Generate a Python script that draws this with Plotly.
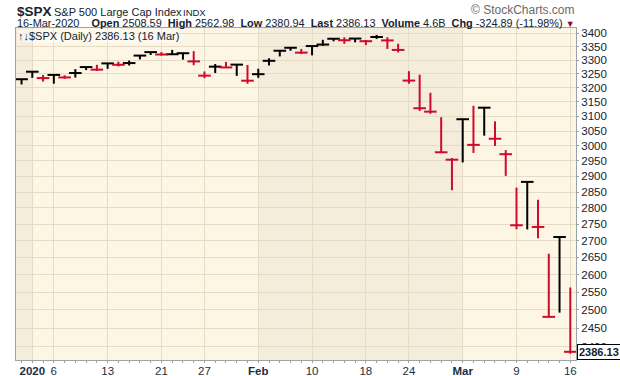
import math
import plotly.graph_objects as go

# ---------------- data ----------------
dates = ["2019-12-31",
         "2020-01-02", "2020-01-03", "2020-01-06", "2020-01-07", "2020-01-08", "2020-01-09", "2020-01-10",
         "2020-01-13", "2020-01-14", "2020-01-15", "2020-01-16", "2020-01-17", "2020-01-21", "2020-01-22",
         "2020-01-23", "2020-01-24", "2020-01-27", "2020-01-28", "2020-01-29", "2020-01-30", "2020-01-31",
         "2020-02-03", "2020-02-04", "2020-02-05", "2020-02-06", "2020-02-07", "2020-02-10", "2020-02-11",
         "2020-02-12", "2020-02-13", "2020-02-14", "2020-02-18", "2020-02-19", "2020-02-20", "2020-02-21",
         "2020-02-24", "2020-02-25", "2020-02-26", "2020-02-27", "2020-02-28",
         "2020-03-02", "2020-03-03", "2020-03-04", "2020-03-05", "2020-03-06", "2020-03-09", "2020-03-10",
         "2020-03-11", "2020-03-12", "2020-03-13", "2020-03-16"]
highs = [3231.72,
         3258.14, 3246.15, 3246.84, 3244.91, 3267.07, 3275.58, 3282.99,
         3288.13, 3294.25, 3298.66, 3317.11, 3329.88, 3329.79, 3337.77,
         3326.88, 3333.18, 3258.85, 3285.78, 3293.47, 3285.91, 3282.33,
         3268.44, 3306.92, 3337.58, 3347.96, 3341.42, 3352.26, 3375.63,
         3381.47, 3385.09, 3380.69, 3375.01, 3393.52, 3385.09, 3360.76,
         3259.81, 3246.99, 3182.51, 3097.07, 2959.72,
         3090.96, 3136.72, 3130.97, 3083.04, 2985.93, 2863.89, 2882.59,
         2825.60, 2660.95, 2711.33, 2562.98]
lows = [3212.03,
        3235.53, 3222.34, 3214.64, 3232.43, 3236.67, 3263.67, 3260.86,
        3268.43, 3277.19, 3280.69, 3302.82, 3318.86, 3316.61, 3320.04,
        3301.87, 3281.53, 3234.50, 3253.22, 3271.89, 3242.80, 3214.68,
        3235.66, 3280.61, 3313.75, 3334.39, 3322.12, 3317.77, 3352.72,
        3369.72, 3360.52, 3366.15, 3355.61, 3378.83, 3341.48, 3328.45,
        3214.65, 3118.77, 3108.99, 2977.39, 2855.84,
        2945.19, 2976.63, 3034.38, 2999.83, 2901.54, 2734.43, 2734.00,
        2707.22, 2478.86, 2492.37, 2380.94]
closes = [3230.78,
          3257.85, 3234.85, 3246.28, 3237.18, 3253.05, 3274.70, 3265.35,
          3288.13, 3283.15, 3289.29, 3316.81, 3329.62, 3320.79, 3321.75,
          3325.54, 3295.47, 3243.63, 3276.24, 3273.40, 3283.66, 3225.52,
          3248.92, 3297.59, 3334.69, 3345.78, 3327.71, 3352.09, 3357.75,
          3379.45, 3373.94, 3380.16, 3370.29, 3386.15, 3373.23, 3337.75,
          3225.89, 3128.21, 3116.39, 2978.76, 2954.22,
          3090.23, 3003.37, 3130.12, 3023.94, 2972.37, 2746.56, 2882.23,
          2741.38, 2480.64, 2711.02, 2386.13]
prev_close_first = 3221.29  # 2019-12-30 close

tick_dates = ["2020-01-02", "2020-01-06", "2020-01-13", "2020-01-21", "2020-01-27", "2020-02-03",
              "2020-02-10", "2020-02-18", "2020-02-24", "2020-03-02", "2020-03-09", "2020-03-16"]
tick_labels = ["<b>2020</b>", "6", "13", "21", "27", "<b>Feb</b>", "10", "18", "24", "<b>Mar</b>", "9", "16"]
y_ticks = list(range(2400, 3401, 50))

# ---------------- styling ----------------
RED = "#CF0A2C"
BLACK = "#000000"
BG_LIGHT = "#FDF6E4"
BG_DARK = "#F4EDDC"
GRID = "#E6DCC6"
TXT = "#13222E"
AX = "#9AA3A8"
FONT = "Liberation Sans, Arial, sans-serif"

W, H = 620, 376
ML, MR, MT, MB = 16, 44, 28, 16
X_LO, X_HI = -0.515, 51.53

def px_x(px):
    return (px - ML) / (W - ML - MR)

def px_y(py):
    return (H - MB - py) / (H - MT - MB)

idx = list(range(len(dates)))
prev = [prev_close_first] + closes[:-1]
up = [c >= p for c, p in zip(closes, prev)]

fig = go.Figure()

for flag, col in ((True, BLACK), (False, RED)):
    xs, ys, cx, cy = [], [], [], []
    for i in idx:
        if up[i] != flag:
            continue
        xs += [i, i, None]
        ys += [lows[i], highs[i], None]
        cx.append(i)
        cy.append(closes[i])
    fig.add_trace(go.Scatter(x=xs, y=ys, mode="lines", line=dict(color=col, width=2),
                             hoverinfo="skip", showlegend=False))
    fig.add_trace(go.Scatter(x=cx, y=cy, mode="markers",
                             marker=dict(symbol="line-ew", size=9, line=dict(color=col, width=2)),
                             showlegend=False))

# month shading
months = [d[:7] for d in dates]
starts = []
for i, m in enumerate(months):
    if i == 0 or m != months[i - 1]:
        starts.append((i, m))
shapes = []
for k, (i0, m) in enumerate(starts):
    i1 = starts[k + 1][0] if k + 1 < len(starts) else X_HI
    x0 = i0 if i0 > 0 else X_LO
    if k % 2 == 0:
        shapes.append(dict(type="rect", xref="x", yref="paper", x0=max(x0, X_LO), x1=min(i1, X_HI),
                           y0=0, y1=1, fillcolor=BG_DARK, line=dict(width=0), layer="below"))

tick_idx = [dates.index(d) for d in tick_dates]

y_lo = math.log10(3400) - (H - MB - 33.3) / 2071.0
y_hi = math.log10(3400) + (33.3 - MT) / 2071.0

fig.update_layout(
    width=W, height=H,
    margin=dict(l=ML, r=MR, t=MT, b=MB, autoexpand=False),
    paper_bgcolor="white",
    plot_bgcolor=BG_LIGHT,
    shapes=shapes,
    font=dict(family=FONT, color=TXT, size=11),
    xaxis=dict(range=[X_LO, X_HI], tickmode="array", tickvals=tick_idx, ticktext=tick_labels,
               automargin=False,
               showgrid=True, gridcolor=GRID, gridwidth=1, zeroline=False,
               showline=True, linecolor=AX, linewidth=1, mirror=True,
               ticks="", 
               tickfont=dict(family=FONT, size=11.5, color="#1B2F45"),
               minor=dict(tickmode="linear", tick0=0, dtick=1, ticks="outside", ticklen=2, tickcolor=AX)),
    yaxis=dict(type="log", range=[y_lo, y_hi], side="right", tickmode="array",
               tickvals=y_ticks, ticktext=[str(v) for v in y_ticks],
               automargin=False,
               showgrid=True, gridcolor=GRID, gridwidth=1, zeroline=False,
               showline=True, linecolor=AX, linewidth=1, mirror=True,
               ticks="outside", ticklen=2, tickcolor=AX,
               tickfont=dict(family=FONT, size=11.5, color=TXT)),
)

ann = []
ann.append(dict(text="<b>$SPX</b>", x=px_x(15), y=px_y(11.5), xref="paper", yref="paper",
                xanchor="left", yanchor="middle", showarrow=False,
                font=dict(family=FONT, size=13.5, color="#13222E")))
ann.append(dict(text="S&P 500 Large Cap Index", x=px_x(52), y=px_y(12), xref="paper", yref="paper",
                xanchor="left", yanchor="middle", showarrow=False,
                font=dict(family=FONT, size=11, color="#13222E")))
ann.append(dict(text="INDX", x=px_x(181), y=px_y(12.5), xref="paper", yref="paper",
                xanchor="left", yanchor="middle", showarrow=False,
                font=dict(family=FONT, size=9.5, color="#13222E")))
ann.append(dict(text="© StockCharts.com", x=px_x(577), y=px_y(10), xref="paper", yref="paper",
                xanchor="right", yanchor="middle", showarrow=False,
                font=dict(family=FONT, size=12, color="#6A6A6A")))
line2 = ("16-Mar-2020&nbsp;&nbsp;&nbsp; <b>Open</b> 2508.59&nbsp; <b>High</b> 2562.98&nbsp; "
         "<b>Low</b> 2380.94&nbsp; <b>Last</b> 2386.13&nbsp; <b>Volume</b> 4.6B&nbsp; "
         "<b>Chg</b> -324.89 (-11.98%) <span style='color:#8E0A28;font-size:9px'>▼</span>")
ann.append(dict(text=line2, x=px_x(15), y=px_y(22.5), xref="paper", yref="paper",
                xanchor="left", yanchor="middle", showarrow=False,
                font=dict(family=FONT, size=10.9, color="#13222E")))
ann.append(dict(text="↑↓$SPX (Daily) 2386.13 (16 Mar)", x=px_x(17), y=px_y(29), xref="paper", yref="paper",
                xanchor="left", yanchor="top", showarrow=False,
                bgcolor="rgba(255,255,255,0.45)", borderpad=0,
                font=dict(family=FONT, size=11, color="#13222E")))
ann.append(dict(text="<b>2386.13</b>", x=1, xshift=1, y=math.log10(closes[-1]), xref="paper", yref="y",
                xanchor="left", yanchor="middle", showarrow=False,
                bgcolor="white", bordercolor="#000000", borderwidth=1, borderpad=1,
                font=dict(family=FONT, size=11, color="#13222E")))
fig.update_layout(annotations=ann)

fig.write_html("out.html")
